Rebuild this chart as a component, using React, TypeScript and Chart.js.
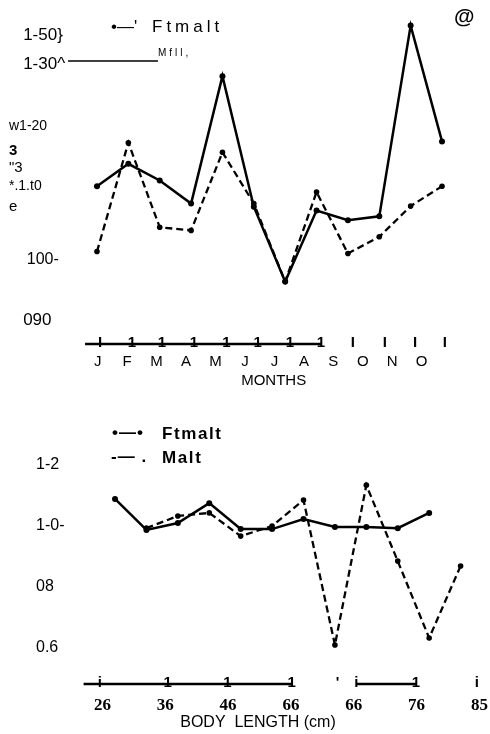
import React, { useEffect, useRef } from "react";
import { Chart, registerables } from "chart.js";
Chart.register(...registerables);

// ---------- Panel (a): monthly ----------
const months = ["J", "F", "M", "A", "M", "J", "J", "A", "S", "O", "N", "O"];
const monthIndex = [0, 1, 2, 3, 4, 5, 6, 7, 8, 9, 10, 11];
const ftmaltMonthly = [1.110, 1.145, 1.119, 1.083, 1.282, 1.078, 0.961, 1.072, 1.057, 1.063, 1.361, 1.180];
const maltMonthly = [1.008, 1.178, 1.046, 1.041, 1.163, 1.083, 0.961, 1.101, 1.005, 1.031, 1.079, 1.110];
const monthYTickValues = [0.9, 0.996, 1.078, 1.110, 1.139, 1.166, 1.204, 1.3, 1.346];
const monthYTickLabels = ["   090", "    100-", "e", "*.1.t0", "\"3", "3", "w1-20", "   1-30^", "   1-50}"];
const monthMarkValues = [0.10, 1.11, 2.07, 3.09, 4.13, 5.12, 6.15, 7.14, 8.16, 9.18, 10.14, 11.09];
const monthMarkLabels = ["I", "1", "1", "1", "1", "1", "1", "1", "I", "I", "I", "I"];

// ---------- Panel (b): body length ----------
const lengthCm = [28, 33, 38, 43, 48, 53, 58, 63, 68, 73, 78, 83];
const ftmaltLength = [1.089, 0.987, 1.010, 1.075, 0.990, 0.990, 1.023, 0.997, 0.997, 0.993, 1.043, null];
const maltLength = [null, 0.993, 1.033, 1.043, 0.967, 1.000, 1.085, 0.610, 1.134, 0.885, 0.633, 0.869];
const lengthTickValues = [26, 36, 46, 56, 66, 76, 86];
const lengthTickLabels = ["26", "36", "46", "66", "66", "76", "85"];
const lengthMarkValues = [25.6, 36.4, 45.9, 56.1, 63.4, 66.4, 75.9, 85.6];
const lengthMarkLabels = ["i", "1", "1", "1", "'", "i", "1", "i"];
const lengthYTickValues = [0.6, 0.8, 1.0, 1.2];
const lengthYTickLabels = ["0.6", "08", "1-0-", "1-2"];

const SANS = "'Liberation Sans', Arial, sans-serif";
const SERIF = "'Liberation Serif', 'Times New Roman', serif";

const pts = (xs: number[], ys: (number | null)[]) =>
  xs.map((x, i) => ({ x, y: ys[i] })).filter((p) => p.y !== null) as { x: number; y: number }[];

const lookup = (vals: number[], labels: string[]) => (v: any) => {
  const i = vals.findIndex((t) => Math.abs(t - Number(v)) < 1e-9);
  return i >= 0 ? labels[i] : "";
};

const solidStyle = {
  borderColor: "#000",
  backgroundColor: "#000",
  borderWidth: 2.5,
  pointRadius: 3,
  pointBackgroundColor: "#000",
  pointBorderWidth: 0,
  tension: 0,
};
const dashStyle = {
  borderColor: "#000",
  backgroundColor: "#000",
  borderWidth: 2.3,
  borderDash: [7, 4],
  pointRadius: 2.8,
  pointBackgroundColor: "#000",
  pointBorderWidth: 0,
  tension: 0,
};

function segPlugin(id: string, segs: [number, number][]) {
  return {
    id,
    afterDraw(chart: any) {
      const ctx = chart.ctx;
      const sx = chart.scales.x;
      const y = chart.chartArea.bottom - 1;
      ctx.save();
      ctx.strokeStyle = "#000";
      ctx.lineWidth = 2.5;
      segs.forEach(([a, b]) => {
        ctx.beginPath();
        ctx.moveTo(sx.getPixelForValue(a), y);
        ctx.lineTo(sx.getPixelForValue(b), y);
        ctx.stroke();
      });
      ctx.restore();
    },
  };
}

const topLegend = {
  id: "topLegend",
  afterDraw(chart: any) {
    const ctx = chart.ctx;
    ctx.save();
    ctx.fillStyle = "#000";
    ctx.textBaseline = "middle";
    ctx.font = `17px ${SANS}`;
    ctx.fillText("\u2022\u2014'", 111, 27);
    (ctx as any).letterSpacing = "4px";
    ctx.fillText("Ftmalt", 152, 27);
    ctx.font = `10px ${SANS}`;
    (ctx as any).letterSpacing = "3px";
    ctx.fillText("Mfll,", 158, 53);
    (ctx as any).letterSpacing = "0px";
    ctx.strokeStyle = "#000";
    ctx.lineWidth = 1.6;
    ctx.beginPath();
    ctx.moveTo(68, 61);
    ctx.lineTo(158, 61);
    ctx.stroke();
    ctx.font = `bold 21px ${SANS}`;
    ctx.fillText("@", 454, 17);
    ctx.restore();
  },
};

const bottomLegend = {
  id: "bottomLegend",
  afterDraw(chart: any) {
    const ctx = chart.ctx;
    ctx.save();
    ctx.fillStyle = "#000";
    ctx.textBaseline = "middle";
    ctx.font = `bold 17px ${SANS}`;
    (ctx as any).letterSpacing = "1px";
    ctx.fillText("\u2022\u2014\u2022", 112, 43);
    ctx.fillText("-\u2014 .", 111, 67);
    (ctx as any).letterSpacing = "1.6px";
    ctx.fillText("Ftmalt", 162, 44);
    ctx.fillText("Malt", 162, 68);
    ctx.restore();
  },
};

function markAxis(values: number[], labels: string[], min: number, max: number) {
  return {
    type: "linear",
    position: "bottom",
    weight: 0,
    min,
    max,
    grid: { display: false, drawTicks: false },
    border: { display: false },
    afterBuildTicks: (s: any) => { s.ticks = values.map((v) => ({ value: v })); },
    afterFit: (s: any) => { s.height = 8; },
    ticks: {
      autoSkip: false,
      maxRotation: 0,
      minRotation: 0,
      mirror: true,
      padding: -7,
      color: "#000",
      font: { family: SANS, size: 15, weight: "bold" },
      callback: lookup(values, labels),
    },
  };
}

function makeTop(canvas: HTMLCanvasElement) {
  return new Chart(canvas, {
    type: "line",
    data: {
      datasets: [
        { label: "Ftmalt", data: pts(monthIndex, ftmaltMonthly), ...solidStyle } as any,
        { label: "Malt", data: pts(monthIndex, maltMonthly), ...dashStyle } as any,
      ],
    },
    options: {
      animation: false,
      responsive: false,
      devicePixelRatio: 1,
      layout: { padding: { top: 1, left: 9, right: 32.3, bottom: 0 } },
      plugins: { legend: { display: false }, tooltip: { enabled: false } },
      scales: {
        x: markAxis(monthMarkValues, monthMarkLabels, -0.5, 11.5),
        x2: {
          type: "linear",
          position: "bottom",
          weight: 1,
          min: -0.557,
          max: 12.222,
          grid: { display: false, drawTicks: false },
          border: { display: false },
          afterBuildTicks: (s: any) => { s.ticks = monthIndex.map((v) => ({ value: v })); },
          afterFit: (s: any) => { s.height = 37; },
          ticks: {
            autoSkip: false,
            maxRotation: 0,
            minRotation: 0,
            padding: 0,
            color: "#000",
            font: { family: SANS, size: 15 },
            callback: (v: any) => months[Math.round(Number(v))] ?? "",
          },
          title: {
            display: true,
            text: "  MONTHS",
            color: "#000",
            font: { family: SANS, size: 15 },
            padding: { top: 0, bottom: 0 },
          },
        },
        y: {
          type: "linear",
          position: "left",
          min: 0.862,
          max: 1.385,
          grid: { display: false, drawTicks: false },
          border: { display: false },
          afterBuildTicks: (s: any) => { s.ticks = monthYTickValues.map((v) => ({ value: v })); },
          afterFit: (s: any) => { s.width = 72.3; },
          ticks: {
            autoSkip: false,
            crossAlign: "far",
            padding: 0,
            color: "#000",
            font: (ctx: any) => {
              const i = ctx.index;
              const sizes = [17, 16, 15, 14, 15, 15, 14, 17, 17];
              return { family: SANS, size: sizes[i] ?? 14, weight: i === 5 ? "bold" : "normal" };
            },
            callback: lookup(monthYTickValues, monthYTickLabels),
          },
        },
      },
    } as any,
    plugins: [segPlugin("segTop", [[-0.38, 7.14]]), topLegend],
  });
}

function makeBottom(canvas: HTMLCanvasElement) {
  return new Chart(canvas, {
    type: "line",
    data: {
      datasets: [
        { label: "Ftmalt", data: pts(lengthCm, ftmaltLength), ...solidStyle } as any,
        { label: "Malt", data: pts(lengthCm, maltLength), ...dashStyle } as any,
      ],
    },
    options: {
      animation: false,
      responsive: false,
      devicePixelRatio: 1,
      layout: { padding: { top: 44.5, left: 36, right: 3.2, bottom: 0 } },
      plugins: { legend: { display: false }, tooltip: { enabled: false } },
      scales: {
        x: markAxis(lengthMarkValues, lengthMarkLabels, 23, 87),
        x2: {
          type: "linear",
          position: "bottom",
          weight: 1,
          min: 23,
          max: 87,
          grid: { display: false, drawTicks: false },
          border: { display: false },
          afterBuildTicks: (s: any) => { s.ticks = lengthTickValues.map((v) => ({ value: v })); },
          afterFit: (s: any) => { s.height = 41; },
          ticks: {
            autoSkip: false,
            maxRotation: 0,
            minRotation: 0,
            padding: 2,
            color: "#000",
            font: { family: SERIF, size: 17, weight: "bold" },
            callback: lookup(lengthTickValues, lengthTickLabels),
          },
          title: {
            display: true,
            text: "BODY  LENGTH (cm)            ",
            color: "#000",
            font: { family: SANS, size: 16 },
            padding: { top: 0, bottom: 1.4 },
          },
        },
        y: {
          type: "linear",
          position: "left",
          min: 0.479,
          max: 1.3,
          grid: { display: false, drawTicks: false },
          border: { display: false },
          afterBuildTicks: (s: any) => { s.ticks = lengthYTickValues.map((v) => ({ value: v })); },
          afterFit: (s: any) => { s.width = 47.6; },
          ticks: {
            autoSkip: false,
            crossAlign: "far",
            padding: 0,
            color: "#000",
            font: { family: SANS, size: 16 },
            callback: lookup(lengthYTickValues, lengthYTickLabels),
          },
        },
      },
    } as any,
    plugins: [segPlugin("segBottom", [[23, 56.1], [66.4, 75.9]]), bottomLegend],
  });
}

export default function App() {
  const topRef = useRef<HTMLCanvasElement>(null);
  const botRef = useRef<HTMLCanvasElement>(null);
  useEffect(() => {
    const a = makeTop(topRef.current!);
    const b = makeBottom(botRef.current!);
    return () => {
      a.destroy();
      b.destroy();
    };
  }, []);
  return (
    <div style={{ position: "absolute", left: 0, top: 0, width: 490, height: 734, background: "#fff" }}>
      <canvas ref={topRef} width={490} height={390} style={{ display: "block", width: 490, height: 390 }} />
      <canvas ref={botRef} width={490} height={344} style={{ display: "block", width: 490, height: 344 }} />
    </div>
  );
}
